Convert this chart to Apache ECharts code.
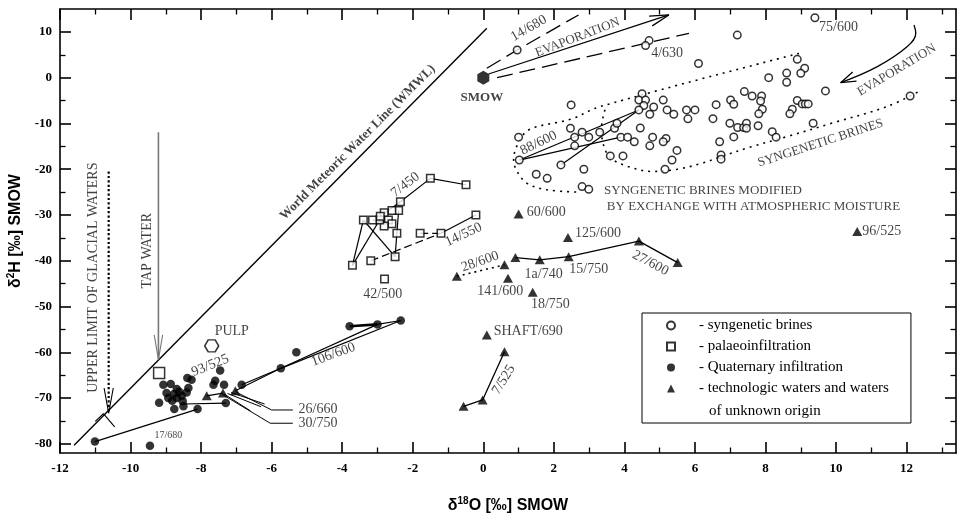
<!DOCTYPE html>
<html><head><meta charset="utf-8">
<script src="https://cdn.jsdelivr.net/npm/echarts@6/dist/echarts.min.js"></script>
<style>html,body{margin:0;padding:0;background:#fff}#c{width:957px;height:516px}</style>
</head><body><div id="c"></div>
<script>
// ---------- axis ticks ----------
const xMajorTicks = [-12,-10,-8,-6,-4,-2,0,2,4,6,8,10,12];
const xMinorTicks = [-11,-9,-7,-5,-3,-1,1,3,5,7,9,11,13];
const yMajorTicks = [-80,-70,-60,-50,-40,-30,-20,-10,0,10];
const yMinorTicks = [-75,-65,-55,-45,-35,-25,-15,-5,5];

// ---------- data: [δ18O, δ2H] ----------
const brines = [
 [0.96,6.05],[4.7,8.1],[4.6,7.0],[9.4,13.1],[7.2,9.3],[6.1,3.1],[12.1,-4.0],[9.7,-2.9],
 [2.49,-5.96],[4.5,-3.5],[4.41,-4.9],[4.6,-4.9],[4.55,-6.1],[4.41,-7.05],[4.83,-6.4],[5.1,-4.9],
 [4.72,-8.0],[5.21,-7.05],[5.4,-8.0],[5.76,-7.05],[6.0,-7.05],[5.8,-9.0],
 [1.0,-13.0],[1.02,-18.0],[2.47,-11.05],[2.59,-13.0],[2.8,-11.9],[2.99,-13.0],[3.3,-11.9],
 [3.72,-11.05],[3.79,-9.96],[2.59,-14.9],[2.2,-19.06],[2.85,-20.0],[1.5,-21.1],[1.81,-22.0],
 [2.8,-23.8],[2.99,-24.4],[3.6,-17.1],[3.96,-17.1],[3.9,-13.0],[4.09,-13.0],[4.28,-14.0],
 [4.45,-11.0],[4.8,-13.0],[5.18,-13.3],[4.72,-14.9],[5.1,-14.0],[5.49,-15.9],[5.35,-18.0],[5.15,-20.0],
 [6.6,-5.9],[6.51,-8.95],[7.01,-4.87],[7.1,-5.8],[7.4,-3.05],[7.62,-4.0],[7.89,-4.0],[7.86,-5.1],
 [7.91,-6.9],[7.81,-7.9],[8.09,0.0],[8.6,1.0],[8.6,-1.0],[8.9,4.0],[9.11,2.05],[9.0,0.96],
 [8.9,-5.0],[9.04,-5.74],[9.13,-5.74],[9.21,-5.74],[8.76,-6.9],[8.69,-7.9],
 [6.99,-9.96],[7.21,-10.9],[7.38,-10.9],[7.46,-9.96],[7.46,-11.05],[7.79,-10.5],[9.35,-9.96],
 [8.19,-11.8],[8.3,-13.0],[7.1,-12.95],[6.7,-14.0],[6.74,-16.9],[6.74,-17.8]
];
const palaeo = [
 [-1.50,-22.0],[-0.49,-23.4],[-2.35,-27.1],[-2.40,-29.0],[-2.59,-29.0],[-2.81,-29.5],[-2.69,-31.1],
 [-2.59,-31.9],[-2.81,-32.4],[-2.94,-31.1],[-3.14,-31.1],[-3.40,-31.1],[-2.92,-30.3],[-2.45,-34.0],
 [-2.50,-39.1],[-3.71,-41.0],[-3.19,-40.0],[-1.79,-34.0],[-1.20,-34.0],[-0.21,-30.0],[-2.80,-44.0]
];
const quaternary = [
 [-11.01,-79.5],[-9.45,-80.4],[-9.07,-67.1],[-8.86,-66.9],[-8.69,-68.0],[-8.77,-69.1],[-8.98,-68.9],
 [-8.93,-70.0],[-8.69,-70.0],[-8.55,-69.5],[-8.41,-68.8],[-8.36,-67.8],[-8.39,-65.6],[-8.27,-66.0],
 [-8.52,-70.7],[-8.50,-71.8],[-9.19,-71.0],[-8.10,-72.4],[-8.76,-72.4],[-8.62,-68.6],[-8.82,-70.6],
 [-7.60,-66.2],[-7.65,-67.1],[-7.46,-64.0],[-7.35,-67.1],[-7.30,-71.1],[-6.85,-67.1],
 [-5.74,-63.5],[-5.30,-60.0],[-3.79,-54.3],[-3.0,-53.9],[-2.34,-53.05]
];
const technologic = [
 [1.0,-29.8],[2.40,-34.9],[0.91,-39.3],[1.60,-39.8],[2.42,-39.1],[0.60,-40.9],[-0.75,-43.4],
 [0.70,-43.8],[1.40,-46.9],[0.10,-56.2],[0.60,-59.9],[-0.02,-70.4],[-0.56,-71.8],[4.41,-35.7],
 [5.51,-40.4],[10.6,-33.6],[-7.84,-69.5],[-7.38,-68.9],[-7.03,-68.4]
];
const smow = [[0,0]];
const pulp = [[-7.70,-58.6]];
const tapWater = [[-9.19,-64.5]];

// ---------- lines ----------
const wmwl = [[-11.6,-80.3],[0.1,10.8]];
const brineLinks = [[[1.02,-18.0],[4.41,-7.05]],[[1.02,-18.0],[3.9,-13.0]],[[2.2,-19.06],[4.41,-7.05]]];
const evapSolid = [[0.15,0.8],[5.26,13.7]];
const evapSolidHead = [[4.79,11.31],[5.26,13.7],[4.70,13.45]];
const evapDashedUpper = [[0.1,2.05],[0.96,6.05],[2.7,13.7]];
const evapDashedLower = [[0.39,0],[5.83,9.7]];
const evapRightCurve = [[12.21,11.5],[12.26,9.7],[12.02,6.8],[11.17,2.4],[10.13,-1.1]];
const evapRightHead = [[10.47,1.22],[10.13,-1.1],[10.58,-0.74]];
const envelopeOuter = [[8.95,5.3],[3.32,-6.3],[2.47,-9.1],[1.29,-11.4],[0.96,-14.8],[0.86,-18],[0.96,-20.5],[1.24,-23.1],[1.81,-24.5],[2.7,-25.0]];
const envelopeInner = [[3.45,-7.0],[3.35,-11],[3.4,-14.5],[3.6,-17.5],[4.1,-19.4],[4.8,-20.5],[5.5,-20.0],[6.2,-18.7],[6.72,-17.3],[7.6,-15.1],[8.6,-12.9],[9.9,-9.9],[11.45,-6.3],[12.35,-3.0]];
const palaeoLinks = [
 [[-2.35,-27.1],[-1.50,-22.0],[-0.49,-23.4]],[[-2.35,-27.1],[-2.92,-30.3]],
 [[-3.71,-41.0],[-3.40,-31.1]],[[-3.71,-41.0],[-2.94,-31.1]],[[-3.40,-31.1],[-2.50,-39.1]],
 [[-2.50,-39.1],[-2.45,-34.0],[-2.40,-29.0]],[[-3.14,-31.1],[-2.59,-31.9]],[[-1.20,-34.0],[-0.21,-30.0]]
];
const palaeoDashed = [[[-3.19,-40.0],[-1.20,-34.0]],[[-1.79,-34.0],[-1.20,-34.0]]];
const quatLinks = [
 [[-11.01,-79.5],[-8.10,-72.4]],[[-8.50,-71.3],[-7.30,-71.1]],[[-6.85,-67.1],[-5.74,-63.5]],
 [[-7.03,-68.4],[-5.74,-63.5]],[[-5.74,-63.5],[-3.0,-53.9]],[[-5.74,-63.5],[-2.34,-53.05]],
 [[-3.0,-53.9],[-2.34,-53.05]]
];
const quatThick = [[-3.79,-54.3],[-3.0,-53.9]];
const techLinks = [
 [[-7.84,-69.5],[-7.38,-68.9]],
 [[0.91,-39.3],[1.60,-39.8],[2.42,-39.1],[4.41,-35.7],[5.51,-40.4]],
 [[0.60,-59.9],[-0.02,-70.4],[-0.56,-71.8]]
];
const techDotted = [[-0.75,-43.4],[0.60,-40.9]];
const leaderLines = [
 [[-7.03,-68.6],[-6.0,-72.6],[-5.4,-72.6]],[[-7.15,-68.8],[-6.2,-71.3]],[[-7.25,-69.0],[-6.3,-71.9]],
 [[-7.4,-69.2],[-6.04,-75.5],[-5.4,-75.5]],[[-7.35,-69.1],[-6.6,-72.8]]
];
const glacialArrow = [[-10.62,-20.5],[-10.62,-73.3]];
const glacialHead = [[-10.75,-67.8],[-10.62,-73.3],[-10.49,-67.8]];
const glacialMark = [[-11.0,-75.1],[-10.77,-73.4],[-10.45,-76.3]];
const tapArrow = [[-9.21,-11.9],[-9.21,-61.6]];
const tapHead = [[-9.33,-56.2],[-9.21,-61.6],[-9.09,-56.2]];

// ---------- text annotations ----------
const annotations = [
 {text:'60/600', at:[1.19,-29.4], anchor:'left'},
 {text:'125/600', at:[2.56,-34.0], anchor:'left'},
 {text:'28/600', at:[-0.09,-40.2], rotate:19},
 {text:'1a/740', at:[1.71,-42.9]},
 {text:'15/750', at:[2.99,-41.8]},
 {text:'141/600', at:[0.48,-46.6]},
 {text:'18/750', at:[1.90,-49.6]},
 {text:'SHAFT/690', at:[0.25,-55.5], anchor:'left'},
 {text:'7/525', at:[0.58,-66.0], rotate:58},
 {text:'27/600', at:[4.74,-40.5], rotate:-28},
 {text:'96/525', at:[10.70,-33.6], anchor:'left'},
 {text:'42/500', at:[-2.85,-47.4]},
 {text:'14/550', at:[-0.56,-34.3], rotate:25},
 {text:'7/450', at:[-2.21,-23.4], rotate:38},
 {text:'106/600', at:[-4.25,-60.5], rotate:20},
 {text:'93/525', at:[-7.74,-62.9], rotate:22},
 {text:'PULP', at:[-7.13,-55.5]},
 {text:'17/680', at:[-8.93,-78.2], size:10},
 {text:'26/660', at:[-5.28,-72.4], anchor:'left'},
 {text:'30/750', at:[-5.28,-75.5], anchor:'left'},
 {text:'14/680', at:[1.29,10.8], rotate:30},
 {text:'4/630', at:[5.21,5.3]},
 {text:'75/600', at:[10.07,11.1]},
 {text:'88/600', at:[1.57,-14.3], rotate:26},
 {text:'SMOW', at:[-0.04,-4.3], bold:true, size:13},
 {text:'SYNGENETIC BRINES MODIFIED', at:[3.38,-24.7], anchor:'left', size:13},
 {text:'BY EXCHANGE WITH ATMOSPHERIC MOISTURE', at:[3.46,-28.2], anchor:'left', size:13},
 {text:'SYNGENETIC BRINES', at:[9.56,-14.3], rotate:18, size:13},
 {text:'EVAPORATION', at:[2.67,8.78], rotate:21, size:13},
 {text:'EVAPORATION', at:[11.72,1.68], rotate:31, size:13},
 {text:'UPPER LIMIT OF GLACIAL WATERS', at:[-11.06,-43.7], rotate:90},
 {text:'TAP WATER', at:[-9.53,-37.8], rotate:90},
 {text:'World Meteoric Water Line (WMWL)', at:[-3.56,-14.15], rotate:45, bold:true, size:13}
];

const legendNames = ['syngenetic brines','palaeoinfiltration','Quaternary infiltration','technologic waters and waters of unknown origin'];
const legendFirstLine = {
 'syngenetic brines':'syngenetic brines',
 'palaeoinfiltration':'palaeoinfiltration',
 'Quaternary infiltration':'Quaternary infiltration',
 'technologic waters and waters of unknown origin':'technologic waters and waters'
};

// ---------- build ----------
const SERIF = '"Liberation Serif","Times New Roman",serif';
const SANS = '"Liberation Sans",Arial,sans-serif';
const X_MIN = -12, X_MAX = 13.4, Y_MIN = -82, Y_MAX = 15;

function mkAxis(dim, pos, ticks, len, withLine, withLabels) {
  return {
    type:'value', min: dim==='x'?X_MIN:Y_MIN, max: dim==='x'?X_MAX:Y_MAX, position:pos,
    splitLine:{show:false},
    axisLine:{show:withLine, onZero:false, lineStyle:{color:'#000', width:1.6}},
    axisTick:{show:true, inside:true, length:len, customValues:ticks, lineStyle:{color:'#000', width:len>8?1.6:1.3}},
    axisLabel: withLabels ? {show:true, customValues:ticks, margin: dim==='x'?9:8, color:'#000', fontFamily:SERIF, fontWeight:'bold', fontSize:13} : {show:false}
  };
}
const xAxes = [
  mkAxis('x','bottom',xMajorTicks,11,true,true),
  mkAxis('x','bottom',xMinorTicks,5.5,false,false),
  mkAxis('x','top',xMajorTicks,11,true,false),
  mkAxis('x','top',xMinorTicks,5.5,false,false)
];
const nameRich = {a:{fontFamily:SANS,fontWeight:'bold',fontSize:16,color:'#000',lineHeight:20},
                  s:{fontFamily:SANS,fontWeight:'bold',fontSize:10,color:'#000',verticalAlign:'top',lineHeight:12}};
Object.assign(xAxes[0], {
  name:'{a|δ}{s|18}{a|O [‰] SMOW}', nameLocation:'middle', nameGap:43, nameTextStyle:{rich:nameRich}
});
const yAxes = [
  mkAxis('y','left',yMajorTicks,11,true,true),
  mkAxis('y','left',yMinorTicks,5.5,false,false),
  mkAxis('y','right',yMajorTicks,11,true,false),
  mkAxis('y','right',yMinorTicks,5.5,false,false)
];
Object.assign(yAxes[0], {
  name:'{a|δ}{s|2}{a|H [‰] SMOW}', nameLocation:'middle', nameGap:34, nameRotate:90, nameTextStyle:{rich:nameRich}
});

function line(points, style, extra) {
  return Object.assign({type:'line', data:points, symbol:'none', silent:true, z:2, animation:false,
    lineStyle:Object.assign({color:'#000', width:1.2}, style||{})}, extra||{});
}
const series = [];
series.push(line(wmwl, {width:1.4}));
brineLinks.forEach(p => series.push(line(p)));
series.push(line(evapSolid, {width:1.3}));
series.push(line(evapSolidHead, {width:1.3}));
series.push(line(evapDashedUpper, {width:1.3, type:[16,7]}));
series.push(line(evapDashedLower, {width:1.3, type:[16,7]}));
series.push(line(evapRightCurve, {width:1.3}, {smooth:0.4}));
series.push(line(evapRightHead, {width:1.3}));
series.push(line(envelopeOuter, {width:1.6, type:[2,5]}, {smooth:0.35}));
series.push(line(envelopeInner, {width:1.6, type:[2,5]}, {smooth:0.35}));
palaeoLinks.forEach(p => series.push(line(p)));
palaeoDashed.forEach(p => series.push(line(p, {type:[8,4]})));
quatLinks.forEach(p => series.push(line(p)));
series.push(line(quatThick, {width:2.6}));
techLinks.forEach(p => series.push(line(p, {width:1.3})));
series.push(line(techDotted, {width:1.6, type:[2,4]}));
leaderLines.forEach(p => series.push(line(p, {width:1})));
series.push(line(glacialArrow, {width:2.2, type:'dotted'}));
series.push(line(glacialHead, {width:1.1}));
series.push(line(glacialMark, {width:1.1}));
series.push(line(tapArrow, {width:1.6, color:'#777'}));
series.push(line(tapHead, {width:1.1, color:'#777'}));

const openStyle = {color:'#fff', borderColor:'#000', borderWidth:1.5};
const filled = {color:'#000', borderColor:'#000', borderWidth:0};
series.push({name:legendNames[0], type:'scatter', data:brines, symbol:'circle', symbolSize:7.5, itemStyle:openStyle, z:4, silent:true});
series.push({name:legendNames[1], type:'scatter', data:palaeo, symbol:'rect', symbolSize:7.5, itemStyle:openStyle, z:4, silent:true});
series.push({name:legendNames[2], type:'scatter', data:quaternary, symbol:'circle', symbolSize:8.5, itemStyle:filled, z:4, silent:true});
series.push({name:legendNames[3], type:'scatter', data:technologic, symbol:'triangle', symbolSize:[10,9], itemStyle:filled, z:4, silent:true});
series.push({name:'SMOW', type:'scatter', data:smow, symbol:'path://M50 0 L93.3 25 L93.3 75 L50 100 L6.7 75 L6.7 25 Z', symbolSize:[12,14], itemStyle:filled, z:4, silent:true});
series.push({name:'PULP', type:'scatter', data:pulp, symbol:'path://M25 6.7 L75 6.7 L100 50 L75 93.3 L25 93.3 L0 50 Z', symbolSize:[14,12], itemStyle:openStyle, z:4, silent:true});
series.push({name:'tap water', type:'scatter', data:tapWater, symbol:'rect', symbolSize:11, itemStyle:openStyle, z:4, silent:true});

series.push({
  name:'labels', type:'scatter', symbolSize:1, silent:true, z:6,
  itemStyle:{color:'rgba(0,0,0,0)'},
  data: annotations.map(a => ({
    value:a.at,
    label:{show:true, formatter:a.text, position: a.anchor==='left' ? 'right' : 'inside', distance:1,
      rotate:a.rotate||0, fontFamily:SERIF, fontSize:a.size||14, fontWeight:a.bold?'bold':'normal',
      color:'#111', textBorderWidth:0}
  }))
});

const chart = echarts.init(document.getElementById('c'), null, {renderer:'canvas'});
chart.setOption({
  animation:false,
  backgroundColor:'#fff',
  textStyle:{fontFamily:SERIF},
  grid:{left:60, right:1, top:9, bottom:63, containLabel:false, outerBoundsMode:'none'},
  xAxis:xAxes, yAxis:yAxes,
  legend:{
    data:legendNames, orient:'vertical', left:642, top:313, padding:[5,22,27,24], itemGap:6,
    itemWidth:8, itemHeight:8, borderColor:'#000', borderWidth:1, backgroundColor:'#fff',
    selectedMode:false,
    formatter: n => '{g|}{t|- ' + legendFirstLine[n] + '}',
    textStyle:{rich:{g:{width:19}, t:{fontFamily:SERIF, fontSize:15, color:'#000', lineHeight:16}}}
  },
  graphic:[{type:'text', left:709, top:404, z:100,
    style:{text:'of unknown origin', font:'15px "Liberation Serif"', fill:'#000'}}],
  series:series
});
</script></body></html>
